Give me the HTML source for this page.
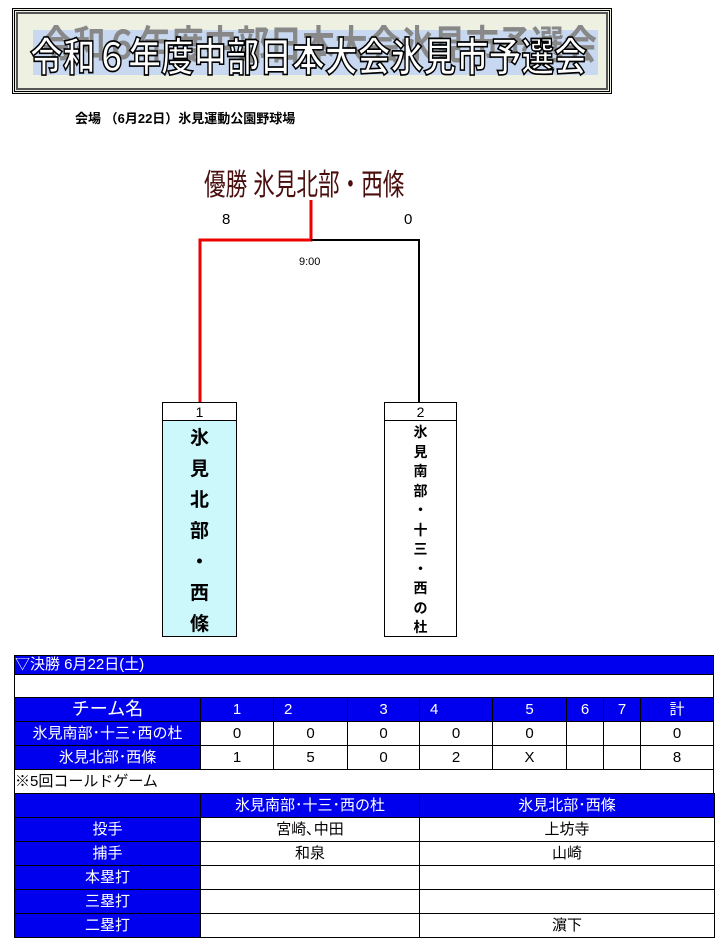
<!DOCTYPE html>
<html><head><meta charset="utf-8"><style>
body{margin:0;width:724px;height:944px;background:#fff;position:relative;font-family:"Liberation Sans","Noto Sans CJK JP",sans-serif;overflow:hidden}
.a{position:absolute}
table{border-collapse:collapse;position:absolute;left:14px;table-layout:fixed}
td{border:1px solid #000;padding:0;text-align:center;font-size:15px;height:23px;line-height:23px;overflow:hidden;white-space:nowrap}
.b{background:#0000ee;color:#fff}
</style></head><body>
<div class="a" style="left:12px;top:8px;width:594px;height:80px;border:3px double #000;outline:2px solid #555;outline-offset:-6px;background:#eef0e2"></div>
<div class="a" style="left:33px;top:30px;width:565px;height:45px;background:#c8d8f0"></div>
<div class="a" style="left:40px;top:14px;font-size:36px;font-weight:bold;color:#888;white-space:nowrap;transform:scale(0.91,1.1);transform-origin:top left">令和６年度中部日本大会氷見市予選会</div>
<div class="a" style="left:30px;top:26px;font-size:36px;font-weight:bold;color:#fff;-webkit-text-stroke:1.5px #000;white-space:nowrap;transform:scale(0.91,1.1);transform-origin:top left">令和６年度中部日本大会氷見市予選会</div>
<div class="a" style="left:75px;top:108px;font-size:13px;font-weight:bold">会場 （6月22日）氷見運動公園野球場</div>
<div class="a" style="left:204px;top:160px;font-size:30px;color:#4a0e0e;transform:scaleX(0.72);transform-origin:left;white-space:nowrap">優勝 氷見北部・西條</div>
<div class="a" style="left:222px;top:211px;font-size:15px">8</div>
<div class="a" style="left:404px;top:211px;font-size:15px">0</div>
<div class="a" style="left:299px;top:256px;font-size:11px">9:00</div>
<svg class="a" style="left:0;top:0" width="724" height="420">
<polyline points="200,402 200,240 311,240 311,200" fill="none" stroke="#e00" stroke-width="3"/>
<polyline points="311,240 419,240 419,402" fill="none" stroke="#000" stroke-width="2"/>
</svg>
<div class="a" style="left:162px;top:402px;width:73px;height:233px;border:1px solid #000;background:#ccf8fc"></div>
<div class="a" style="left:162px;top:402px;width:73px;height:17px;border:1px solid #000;background:#fff;text-align:center;font-size:14px;line-height:18px">1</div>
<div class="a" style="left:162px;top:423px;width:75px;text-align:center;font-size:19px;font-weight:bold;line-height:31px">氷<br>見<br>北<br>部<br>・<br>西<br>條</div>
<div class="a" style="left:384px;top:402px;width:71px;height:233px;border:1px solid #000;background:#fff"></div>
<div class="a" style="left:384px;top:402px;width:71px;height:17px;border:1px solid #000;text-align:center;font-size:14px;line-height:18px">2</div>
<div class="a" style="left:384px;top:423px;width:73px;text-align:center;font-size:14px;font-weight:bold;line-height:19.5px">氷<br>見<br>南<br>部<br>・<br>十<br>三<br>・<br>西<br>の<br>杜</div>
<table style="top:655px;width:700px">
<colgroup><col style="width:186px"><col style="width:73px"><col style="width:74px"><col style="width:72px"><col style="width:73px"><col style="width:74px"><col style="width:37px"><col style="width:37px"><col style="width:73px"></colgroup>
<tr><td colspan="9" class="b" style="text-align:left;height:18px;line-height:18px">▽決勝 6月22日(土)</td></tr>
<tr><td colspan="9" style="height:22px"></td></tr>
<tr class="b" style="font-size:17px"><td style="font-size:18px">チーム名</td><td>1</td><td style="text-align:left;padding-left:10px">2</td><td>3</td><td style="text-align:left;padding-left:10px">4</td><td>5</td><td>6</td><td>7</td><td>計</td></tr>
<tr><td class="b">氷見南部･十三･西の杜</td><td>0</td><td>0</td><td>0</td><td>0</td><td>0</td><td></td><td></td><td>0</td></tr>
<tr><td class="b">氷見北部･西條</td><td>1</td><td>5</td><td>0</td><td>2</td><td>X</td><td></td><td></td><td>8</td></tr>
<tr><td colspan="9" style="text-align:left">※5回コールドゲーム</td></tr>
</table>
<table style="top:793px;width:700px">
<colgroup><col style="width:186px"><col style="width:219px"><col style="width:295px"></colgroup>
<tr class="b"><td></td><td>氷見南部･十三･西の杜</td><td>氷見北部･西條</td></tr>
<tr><td class="b">投手</td><td>宮崎､中田</td><td>上坊寺</td></tr>
<tr><td class="b">捕手</td><td>和泉</td><td>山崎</td></tr>
<tr><td class="b">本塁打</td><td></td><td></td></tr>
<tr><td class="b">三塁打</td><td></td><td></td></tr>
<tr><td class="b">二塁打</td><td></td><td>濵下</td></tr>
</table>
</body></html>
